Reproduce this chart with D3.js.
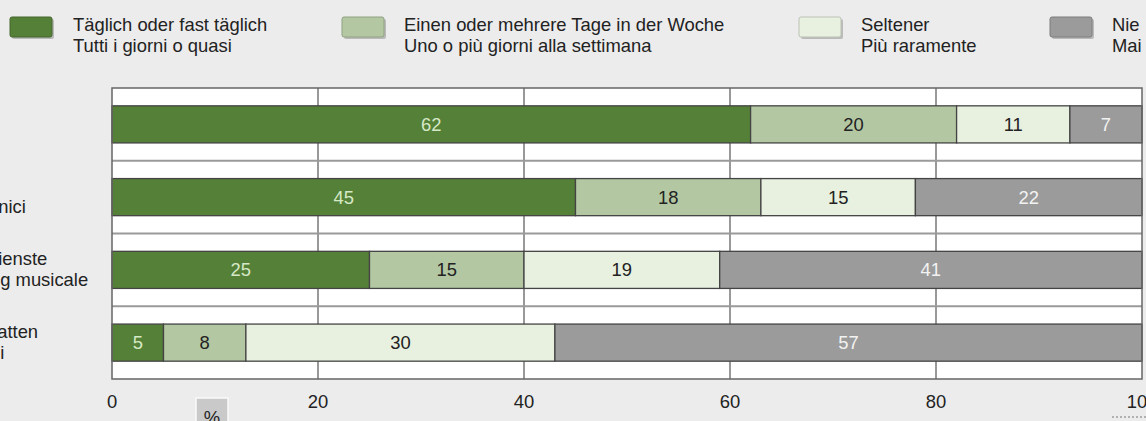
<!DOCTYPE html>
<html>
<head>
<meta charset="utf-8">
<script src="https://cdn.jsdelivr.net/npm/d3@7"></script>
<style>
  body { margin: 0; background: #ececec; }
  svg { display: block; font-family: "Liberation Sans", Arial, sans-serif; }
</style>
</head>
<body>
<div id="chart"></div>
<script>
// categories (German / Italian), values in %
var categoriesDe = ["Fernsehen", "Elektronikgeräte", "Musik-Streamingdienste", "CDs oder Schallplatten"];
var categoriesIt = ["Televisione", "Apparecchi elettronici", "Servizi di streaming musicale", "CD o dischi in vinili"];
var daily  = [62, 45, 25, 5];
var weekly = [20, 18, 15, 8];
var rarely = [11, 15, 19, 30];
var never  = [7, 22, 41, 57];
var seriesKeys = ["daily", "weekly", "rarely", "never"];
var legendDe = ["Täglich oder fast täglich", "Einen oder mehrere Tage in der Woche", "Seltener", "Nie"];
var legendIt = ["Tutti i giorni o quasi", "Uno o più giorni alla settimana", "Più raramente", "Mai"];
var xTicks = [0, 20, 40, 60, 80, 100];

var width = 1146, height = 421;
var colors = ["#558037", "#b3c8a2", "#e8f1e0", "#9b9b9b"];
var labelColors = ["#d6e9c6", "#222", "#222", "#f2f2f2"];
var fs = 18.4;

var svg = d3.select("#chart").append("svg")
  .attr("width", width)
  .attr("height", height);

var x = d3.scaleLinear().domain([0, 100]).range([112, 1142]);
var y = d3.scaleBand()
  .domain(d3.range(categoriesDe.length))
  .range([88, 379])
  .paddingInner(0.49)
  .paddingOuter(0.245);

var rows = d3.range(categoriesDe.length).map(function(i) {
  return { i: i, daily: daily[i], weekly: weekly[i], rarely: rarely[i], never: never[i] };
});
var stacked = d3.stack().keys(seriesKeys)(rows);

// legend
var legend = svg.append("g").attr("class", "legend");
var swatchX = [10, 342, 799, 1050];
var textX = [73, 404, 861, 1112];
legendDe.forEach(function(d, i) {
  legend.append("rect")
    .attr("x", swatchX[i] + 2).attr("y", 19)
    .attr("width", 42).attr("height", 20)
    .attr("rx", 2)
    .attr("fill", "#9a9a9a").attr("opacity", 0.6);
  legend.append("rect")
    .attr("x", swatchX[i]).attr("y", 17)
    .attr("width", 42).attr("height", 20)
    .attr("rx", 2)
    .attr("fill", colors[i])
    .attr("stroke", d3.color(colors[i]).darker(0.6))
    .attr("stroke-width", 1);
  var t = legend.append("text")
    .attr("x", textX[i]).attr("y", 31)
    .attr("font-size", fs).attr("fill", "#222");
  t.append("tspan").attr("x", textX[i]).text(d);
  t.append("tspan").attr("x", textX[i]).attr("dy", 20.5).text(legendIt[i]);
});

// plot frame
svg.append("rect")
  .attr("x", x(0)).attr("y", 88)
  .attr("width", x(100) - x(0)).attr("height", 379 - 88)
  .attr("fill", "#fff");

// vertical grid lines (under bars)
svg.append("g")
  .selectAll("line")
  .data(xTicks.slice(1, -1))
  .enter().append("line")
  .attr("x1", function(d) { return x(d); })
  .attr("x2", function(d) { return x(d); })
  .attr("y1", 88).attr("y2", 379)
  .attr("stroke", "#555").attr("stroke-width", 1.2);

// band separators
var step = y.step();
svg.append("g")
  .selectAll("line")
  .data(d3.range(1, categoriesDe.length))
  .enter().append("line")
  .attr("x1", x(0)).attr("x2", x(100))
  .attr("y1", function(d) { return 88 + d * step; })
  .attr("y2", function(d) { return 88 + d * step; })
  .attr("stroke", "#9a9a9a").attr("stroke-width", 2);

// bars
var layers = svg.append("g").selectAll("g")
  .data(stacked)
  .enter().append("g");

layers.selectAll("rect")
  .data(function(d) { return d.map(function(p) { return { p: p, k: d.index }; }); })
  .enter().append("rect")
  .attr("x", function(d) { return x(d.p[0]); })
  .attr("y", function(d) { return y(d.p.data.i); })
  .attr("width", function(d) { return x(d.p[1]) - x(d.p[0]); })
  .attr("height", y.bandwidth())
  .attr("fill", function(d) { return colors[d.k]; })
  .attr("stroke", "#444")
  .attr("stroke-width", 1.3);

layers.selectAll("text")
  .data(function(d) { return d.map(function(p) { return { p: p, k: d.index }; }); })
  .enter().append("text")
  .attr("x", function(d) { return (x(d.p[0]) + x(d.p[1])) / 2; })
  .attr("y", function(d) { return y(d.p.data.i) + y.bandwidth() / 2; })
  .attr("dy", "0.36em")
  .attr("text-anchor", "middle")
  .attr("font-size", fs)
  .attr("fill", function(d) { return labelColors[d.k]; })
  .text(function(d) { return d.p[1] - d.p[0]; });

// frame border
svg.append("rect")
  .attr("x", x(0)).attr("y", 88)
  .attr("width", x(100) - x(0)).attr("height", 379 - 88)
  .attr("fill", "none")
  .attr("stroke", "#666").attr("stroke-width", 1.5);

// category labels (cut off at the left edge, as in the original crop)
var cats = svg.append("g");
categoriesDe.forEach(function(d, i) {
  var cy = y(i) + y.bandwidth() / 2;
  var t = cats.append("text")
    .attr("x", -150).attr("y", cy - 5)
    .attr("font-size", fs).attr("fill", "#222");
  t.append("tspan").attr("x", -150).text(d);
  t.append("tspan").attr("x", -150).attr("dy", 21).text(categoriesIt[i]);
});

// x axis labels
svg.append("g")
  .selectAll("text")
  .data(xTicks)
  .enter().append("text")
  .attr("x", function(d) { return x(d); })
  .attr("y", 408)
  .attr("text-anchor", "middle")
  .attr("font-size", fs)
  .attr("fill", "#222")
  .text(function(d) { return d; });

// % box
svg.append("rect")
  .attr("x", 196).attr("y", 398)
  .attr("width", 32).attr("height", 30)
  .attr("fill", "#c9c9c9")
  .attr("stroke", "#fafafa").attr("stroke-width", 1.5);
svg.append("text")
  .attr("x", 212).attr("y", 424)
  .attr("text-anchor", "middle")
  .attr("font-size", fs).attr("fill", "#222")
  .text("%");

// dotted underline at right
svg.append("line")
  .attr("x1", 1112).attr("x2", 1146)
  .attr("y1", 417).attr("y2", 417)
  .attr("stroke", "#777").attr("stroke-width", 1.2)
  .attr("stroke-dasharray", "2,2");
</script>
</body>
</html>
